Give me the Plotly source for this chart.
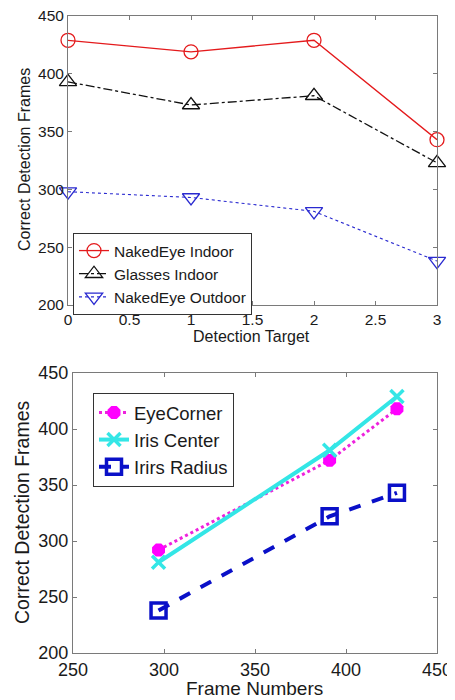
import plotly.graph_objects as go

# ---- Top chart data ----
targets = [0, 1, 2, 3]
naked_indoor = [429, 419, 429, 343]
glasses_indoor = [393, 373, 381, 323]
naked_outdoor = [298, 293, 281, 238]

# ---- Bottom chart data ----
frame_numbers = [297, 391, 428]
eye_corner = [292, 372, 418]
iris_center = [281, 381, 429]
iris_radius = [238, 322, 343]

top_ticks_x = [0, 0.5, 1, 1.5, 2, 2.5, 3]
top_ticks_x_text = ["0", "0.5", "1", "1.5", "2", "2.5", "3"]
y_ticks = [200, 250, 300, 350, 400, 450]
bottom_ticks_x = [250, 300, 350, 400, 450]

top_x_title = "Detection Target"
bottom_x_title = "Frame Numbers"
y_title = "Correct Detection Frames"

FONT = "Liberation Sans, Arial, sans-serif"
# the page body has an 8px margin, so the figure is drawn at (8, 8)
OFF = 8
W, H = 455 - OFF, 700 - OFF
TXT = "#1a1a1a"


def fx(px):
    return (px - OFF) / W


def fy(py):
    return 1 - (py - OFF) / H


fig = go.Figure()

fig.add_trace(go.Scatter(x=targets, y=naked_indoor, name="NakedEye Indoor",
                         mode="lines+markers", line=dict(color="#e41a1c", width=1.3),
                         marker=dict(symbol="circle-open", size=14, color="#e41a1c", line=dict(width=1.3)),
                         cliponaxis=False, xaxis="x", yaxis="y", legend="legend"))
fig.add_trace(go.Scatter(x=targets, y=glasses_indoor, name="Glasses Indoor",
                         mode="lines+markers", line=dict(color="#111111", width=1.3, dash="dashdot"),
                         marker=dict(symbol="triangle-up-open", size=15, color="#111111", line=dict(width=1.3)),
                         cliponaxis=False, xaxis="x", yaxis="y", legend="legend"))
fig.add_trace(go.Scatter(x=targets, y=naked_outdoor, name="NakedEye Outdoor",
                         mode="lines+markers", line=dict(color="#2a2ad0", width=1.1, dash="dot"),
                         marker=dict(symbol="triangle-down-open", size=15, color="#2a2ad0", line=dict(width=1.3)),
                         cliponaxis=False, xaxis="x", yaxis="y", legend="legend"))

fig.add_trace(go.Scatter(x=frame_numbers, y=eye_corner, name="EyeCorner",
                         mode="lines+markers", line=dict(color="#ee22dd", width=3, dash="dot"),
                         marker=dict(symbol="octagon", size=14, color="#ff00ff"),
                         cliponaxis=False, xaxis="x2", yaxis="y2", legend="legend2"))
fig.add_trace(go.Scatter(x=frame_numbers, y=iris_center, name="Iris Center",
                         mode="lines+markers", line=dict(color="#33e6e6", width=4),
                         marker=dict(symbol="x-thin-open", size=13, color="#33e6e6", line=dict(width=3.5, color="#33e6e6")),
                         cliponaxis=False, xaxis="x2", yaxis="y2", legend="legend2"))
fig.add_trace(go.Scatter(x=frame_numbers, y=iris_radius, name="Irirs Radius",
                         mode="lines+markers", line=dict(color="#0a10c8", width=4, dash="dash"),
                         marker=dict(symbol="square-open", size=15, color="#0a10c8", line=dict(width=3.5)),
                         cliponaxis=False, xaxis="x2", yaxis="y2", legend="legend2"))

axis_common = dict(showline=True, linecolor="#7a7a7a", linewidth=1, mirror="ticks",
                   ticks="inside", ticklen=4, tickcolor="#7a7a7a", showgrid=False,
                   zeroline=False, automargin=False, ticklabeloverflow="allow")

fig.update_layout(
    template="none",
    width=W, height=H,
    margin=dict(l=0, r=0, t=0, b=0, autoexpand=False),
    paper_bgcolor="white", plot_bgcolor="white",
    font=dict(family=FONT, color=TXT),
    showlegend=True,
    xaxis=dict(domain=[fx(68), fx(437)], range=[0, 3], tickvals=top_ticks_x,
               ticktext=top_ticks_x_text, anchor="y",
               tickfont=dict(size=15.5, color=TXT), **axis_common),
    yaxis=dict(domain=[fy(305), fy(16)], range=[200, 450], tickvals=y_ticks, anchor="x",
               tickfont=dict(size=15.5, color=TXT), **axis_common),
    xaxis2=dict(domain=[fx(73), fx(437)], range=[250, 450], tickvals=bottom_ticks_x, anchor="y2",
                tickfont=dict(size=18, color=TXT), **axis_common),
    yaxis2=dict(domain=[fy(653), fy(373)], range=[200, 450], tickvals=y_ticks, anchor="x2",
                tickfont=dict(size=18, color=TXT), **axis_common),
    legend=dict(x=fx(73), y=fy(233), xanchor="left", yanchor="top",
                bgcolor="white", bordercolor="#333333", borderwidth=1,
                font=dict(size=15.5, color=TXT), tracegroupgap=0, itemwidth=30),
    legend2=dict(x=fx(93), y=fy(393), xanchor="left", yanchor="top",
                 bgcolor="white", bordercolor="#333333", borderwidth=1,
                 font=dict(size=18.5, color=TXT), tracegroupgap=0, itemwidth=30),
    annotations=[
        dict(text=top_x_title, x=fx(251), y=fy(336), xref="paper", yref="paper",
             showarrow=False, font=dict(size=16, color=TXT), xanchor="center", yanchor="middle"),
        dict(text=y_title, x=fx(24), y=fy(160), xref="paper", yref="paper", textangle=-90,
             showarrow=False, font=dict(size=16, color=TXT), xanchor="center", yanchor="middle"),
        dict(text=bottom_x_title, x=fx(254), y=fy(688), xref="paper", yref="paper",
             showarrow=False, font=dict(size=19, color=TXT), xanchor="center", yanchor="middle"),
        dict(text=y_title, x=fx(22), y=fy(513), xref="paper", yref="paper", textangle=-90,
             showarrow=False, font=dict(size=19.5, color=TXT), xanchor="center", yanchor="middle"),
    ],
)

fig.write_html("out.html")
